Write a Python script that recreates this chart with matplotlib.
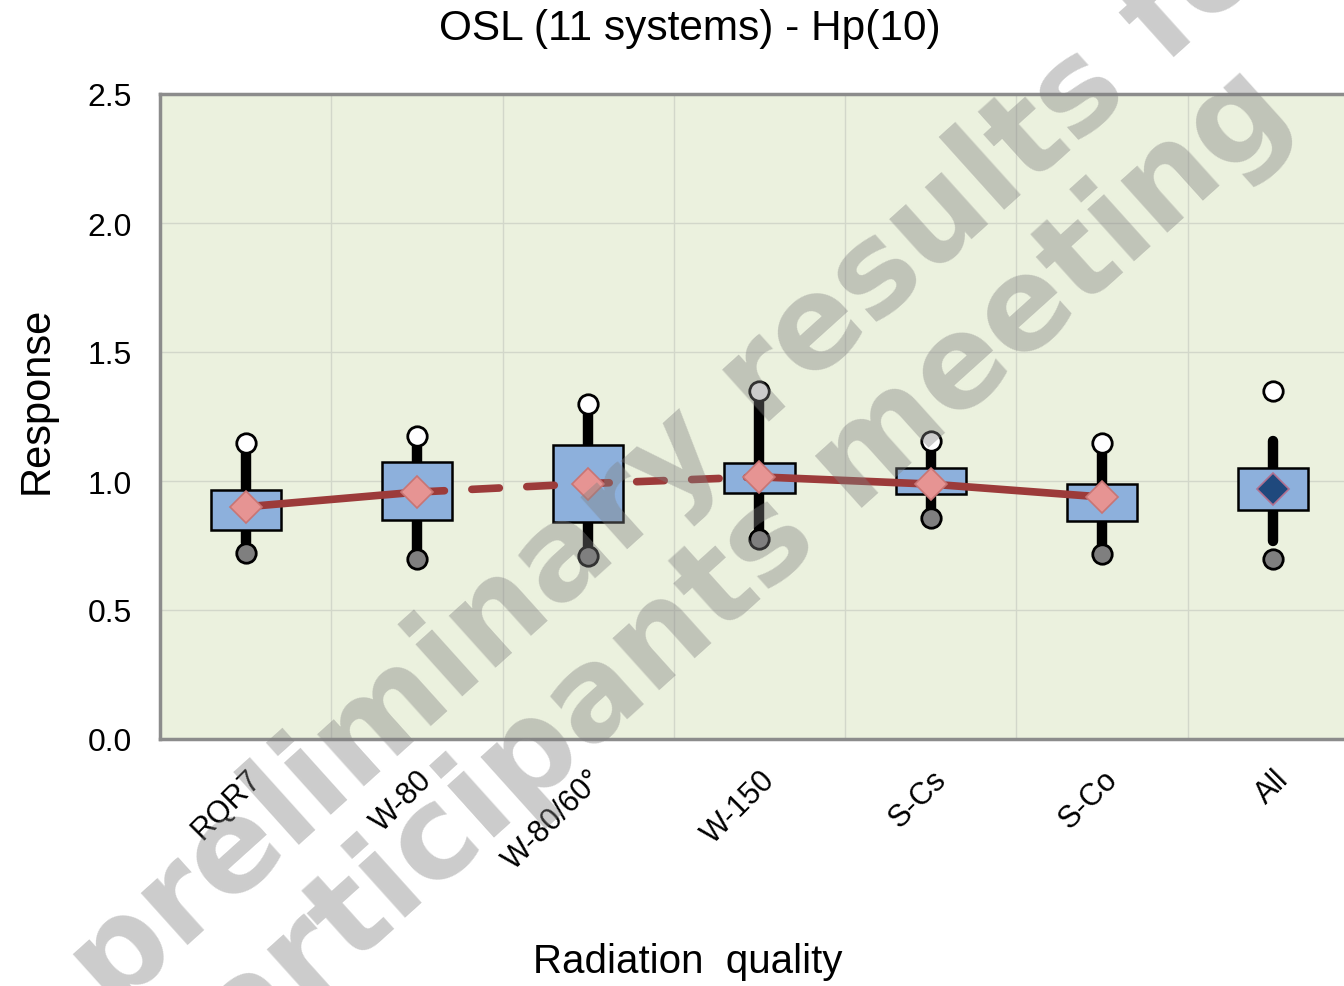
import matplotlib
matplotlib.use("Agg")
import matplotlib.pyplot as plt
import numpy as np

# ---------------- data ----------------
categories = ["RQR7", "W-80", "W-80/60°", "W-150", "S-Cs", "S-Co", "All"]
mean_vals  = [0.90, 0.957, 0.99, 1.016, 0.988, 0.938, 0.969]
box_low    = [0.81, 0.849, 0.84, 0.953, 0.950, 0.845, 0.888]
box_high   = [0.965, 1.074, 1.14, 1.070, 1.050, 0.988, 1.050]
whisk_low  = [0.76, 0.72, 0.73, 0.79, 0.87, 0.73, 0.767]
whisk_high = [1.13, 1.15, 1.28, 1.33, 1.14, 1.13, 1.155]
max_vals   = [1.147, 1.174, 1.30, 1.349, 1.155, 1.147, 1.349]
min_vals   = [0.72, 0.698, 0.71, 0.775, 0.856, 0.717, 0.698]
title = "OSL (11 systems) - Hp(10)"
xlabel = "Radiation  quality"
ylabel = "Response"
yticks = [0.0, 0.5, 1.0, 1.5, 2.0, 2.5]

plt.rcParams['font.family'] = ['Liberation Sans', 'DejaVu Sans']

W, H = 1344, 987
fig = plt.figure(figsize=(W/100, H/100), dpi=100)
ax = fig.add_axes([160/W, (H-740)/H, 1199/W, 645/H])
ax.set_facecolor('#EBF1DE')

x = np.arange(len(categories))
ax.set_xlim(-0.5, len(categories)-0.5)
ax.set_ylim(0, 2.5)

# grid
ax.set_yticks(yticks)
ax.set_yticklabels([f"{v:.1f}" for v in yticks], fontsize=23)
ax.set_xticks(x)
ax.set_xticks(x[:-1] + 0.5, minor=True)
ax.set_xticklabels(categories, rotation=45, ha='right', va='top',
                   rotation_mode='anchor', fontsize=22)
ax.tick_params(axis='both', which='both', length=0)
ax.tick_params(axis='y', pad=20)
ax.tick_params(axis='x', pad=18)
ax.grid(True, axis='y', color='#D2D7CA', lw=1.0, zorder=0)
ax.grid(True, axis='x', which='minor', color='#D2D7CA', lw=1.0, zorder=0)
ax.set_axisbelow(True)

for s in ['left', 'bottom', 'top', 'right']:
    ax.spines[s].set_color('#8C8C8C')
    ax.spines[s].set_linewidth(2.5)

# whiskers
ax.vlines(x, whisk_low, whisk_high, color='black', lw=7.5, zorder=2,
          capstyle='round')
# boxes
bw = 0.41
for xi, lo, hi in zip(x, box_low, box_high):
    ax.bar(xi, hi - lo, bottom=lo, width=bw, color='#8DB0DC',
           edgecolor='black', linewidth=1.8, zorder=3)

# mean line
line_col = '#9C3B3A'
ax.plot(x[0:2], mean_vals[0:2], color=line_col, lw=5.5, zorder=4,
        solid_capstyle='round')
ax.plot(x[1:4], mean_vals[1:4], color=line_col, lw=5.5, zorder=4,
        dashes=(3.6, 3.6), dash_capstyle='round')
ax.plot(x[3:6], mean_vals[3:6], color=line_col, lw=5.5, zorder=4,
        solid_capstyle='round')

# mean markers
ax.plot(x[:-1], mean_vals[:-1], 'D', ms=16, mfc='#E69493',
        mec='#C87574', mew=1.2, zorder=5, ls='none')
ax.plot(x[-1:], mean_vals[-1:], 'D', ms=16, mfc='#1F497D',
        mec='#B07090', mew=1.2, zorder=5, ls='none')

# max / min circles
ax.plot(x, max_vals, 'o', ms=14, mfc='white', mec='black', mew=2,
        zorder=6, ls='none')
ax.plot(x, min_vals, 'o', ms=14, mfc='#7F7F7F', mec='black', mew=2,
        zorder=6, ls='none')

fig.text(690/W, 1-29/H, title, ha='center', va='center', fontsize=30.5)
fig.text(37/W, 1-400/H, ylabel, ha='center', va='center', rotation=90,
         fontsize=30)
fig.text(688/W, 1-962/H, xlabel, ha='center', va='center', fontsize=29)

# watermark
wm = dict(ha='center', va='center', rotation=42, rotation_mode='anchor',
          fontsize=92, fontweight='heavy', color='#808080', alpha=0.4,
          family='DejaVu Sans', zorder=10)
fig.text(692/W, 1-445/H, "preliminary results for", **wm)
fig.text(712/W, 1-596/H, "participants meeting", **wm)

fig.savefig("out.png", dpi=100)
